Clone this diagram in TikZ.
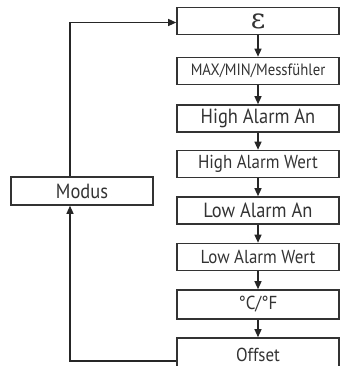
\documentclass[tikz,border=0pt]{standalone}
\usepackage{fontspec}
\setmainfont{PT Sans}[FakeStretch=0.9]
\newfontfamily\grkfont{DejaVu Serif}
\usetikzlibrary{arrows.meta,positioning}

\tikzset{
  menubox/.style={draw=black!80, line width=1.6pt, minimum width=162pt, minimum height=27pt,
    inner sep=0pt, text=black!80},
  bigtxt/.style={font=\fontsize{20.5}{22}\selectfont},
  midtxt/.style={font=\fontsize{18.8}{20}\selectfont},
  smalltxt/.style={font=\fontsize{16.4}{18}\selectfont},
  flow/.style={draw=black!85, line width=1.3pt, -{Triangle[width=7pt,length=8pt]}}
}

\begin{document}
\begin{tikzpicture}[x=1pt,y=-1pt]
\useasboundingbox (0,0) rectangle (341,366);

% ======================================================================
% RIGHT COLUMN : MENU ITEMS
% ======================================================================
\node[menubox, font=\fontsize{28}{28}\grkfont] (eps) at (258,21) {ε};
\node[menubox, smalltxt] (maxmin)  at (258,71)    {MAX/MIN/Messfühler};
\node[menubox, bigtxt]   (higha)   at (258,118.5) {High Alarm An};
\node[menubox, midtxt]   (highw)   at (258,164)   {High Alarm Wert};
\node[menubox, bigtxt]   (lowa)    at (258,210.5) {Low Alarm An};
\node[menubox, midtxt]   (loww)    at (258,257)   {Low Alarm Wert};
\node[menubox, midtxt, minimum height=29pt] (celsius) at (258,304.5) {°C/°F};
\node[menubox, midtxt, minimum height=34pt] (offset)  at (258,355)   {Offset};

% arrows down the column
\foreach \a/\b in {eps/maxmin,maxmin/higha,higha/highw,highw/lowa,lowa/loww,loww/celsius,celsius/offset}{
  \draw[flow] (\a) -- (\b);
}

% ======================================================================
% LEFT : MODUS + LOOP BACK
% ======================================================================
\node[menubox, bigtxt, minimum width=142pt, minimum height=28pt] (modus) at (82,191) {Modus};

\draw[flow] ([xshift=-12pt]modus.north) |- ([yshift=-1.5pt]eps.west);
\draw[flow] ([yshift=-6pt]offset.west) -| ([xshift=-12pt]modus.south);

\end{tikzpicture}
\end{document}
